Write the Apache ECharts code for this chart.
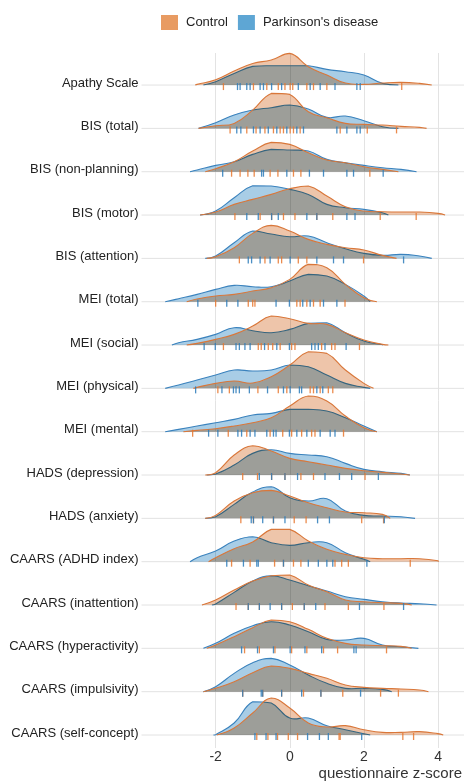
<!DOCTYPE html>
<html><head><meta charset="utf-8">
<script src="https://cdn.jsdelivr.net/npm/echarts@6/dist/echarts.min.js"></script>
<style>html,body{margin:0;padding:0;background:#fff}#c{width:464px;height:782px}</style>
</head><body><div id="c"></div>
<script>
const categories = ["Apathy Scale","BIS (total)","BIS (non-planning)","BIS (motor)","BIS (attention)","MEI (total)","MEI (social)","MEI (physical)","MEI (mental)","HADS (depression)","HADS (anxiety)","CAARS (ADHD index)","CAARS (inattention)","CAARS (hyperactivity)","CAARS (impulsivity)","CAARS (self-concept)"];
const xGrid = [-4,-3.5,-3,-2.5,-2,-1.5,-1,-0.5,0,0.5,1,1.5,2,2.5,3,3.5,4,4.5];
const xTicks = [-2,0,2,4];

// density estimate read at xGrid (values outside each curve's range are unused)
const controlDensity = [
 [0,0,0,0.02,0.16,0.42,0.65,0.75,0.95,0.55,0.30,0.06,0.02,0.06,0.08,0.05,0,0],
 [0,0,0,0.02,0.08,0.15,0.55,1.05,1.02,0.50,0.32,0.15,0.12,0.10,0.06,0.03,0,0],
 [0,0,0,0,0.09,0.30,0.62,0.88,0.82,0.57,0.35,0.27,0.15,0.07,0.01,0,0,0],
 [0,0,0,0.03,0.09,0.32,0.47,0.62,0.79,0.87,0.57,0.25,0.12,0.10,0.09,0.09,0.05,0],
 [0,0,0,0,0.05,0.32,0.75,0.99,0.82,0.57,0.42,0.32,0.25,0.09,0,0,0,0],
 [0,0,0,0.08,0.17,0.22,0.32,0.42,0.67,1.12,1.02,0.52,0.12,0,0,0,0,0],
 [0,0,0,0.05,0.17,0.32,0.57,0.87,0.79,0.65,0.62,0.37,0.15,0.02,0,0,0,0],
 [0,0,0,0.03,0.15,0.22,0.16,0.35,0.70,1.10,1.05,0.55,0.15,0,0,0,0,0],
 [0,0,0,0.04,0.09,0.17,0.27,0.42,0.77,1.07,0.92,0.47,0.12,0,0,0,0,0],
 [0,0,0,0,0.07,0.60,0.88,0.72,0.50,0.40,0.30,0.20,0.13,0.08,0.03,0,0,0],
 [0,0,0,0,0.09,0.52,0.77,0.84,0.67,0.47,0.32,0.19,0.17,0.12,0,0,0,0],
 [0,0,0,0,0.12,0.39,0.59,0.97,0.97,0.62,0.37,0.22,0.12,0.09,0.09,0.09,0.03,0],
 [0,0,0,0.02,0.15,0.45,0.72,0.88,0.90,0.60,0.40,0.15,0.10,0.07,0.05,0,0,0],
 [0,0,0,0,0.10,0.35,0.62,0.85,0.80,0.57,0.30,0.15,0.10,0.08,0.06,0,0,0],
 [0,0,0,0,0.10,0.30,0.57,0.77,0.70,0.55,0.40,0.20,0.13,0.10,0.08,0.05,0,0],
 [0,0,0,0,0,0.21,0.66,1.11,0.81,0.36,0.24,0.28,0.16,0.08,0.08,0.10,0.04,0]
];
const pdDensity = [
 [0,0,0,0,0.10,0.35,0.56,0.58,0.58,0.58,0.47,0.40,0.30,0.05,0,0,0,0],
 [0,0,0,0.02,0.17,0.40,0.55,0.62,0.70,0.58,0.33,0.37,0.23,0.05,0,0,0,0],
 [0,0,0.04,0.05,0.19,0.30,0.52,0.67,0.65,0.62,0.37,0.27,0.19,0.12,0.07,0.01,0,0],
 [0,0,0,0.03,0.12,0.52,0.88,0.87,0.77,0.62,0.32,0.22,0.17,0.07,0,0,0,0],
 [0,0,0,0.01,0.07,0.47,0.82,0.73,0.65,0.67,0.47,0.29,0.15,0.09,0.12,0.07,0,0],
 [0,0,0.09,0.22,0.37,0.49,0.45,0.45,0.62,0.82,0.77,0.52,0.17,0,0,0,0,0],
 [0,0,0.07,0.17,0.32,0.52,0.43,0.37,0.47,0.65,0.67,0.37,0.12,0.01,0,0,0,0],
 [0,0.02,0.10,0.25,0.40,0.55,0.52,0.55,0.70,0.65,0.40,0.15,0.03,0,0,0,0,0],
 [0,0,0.07,0.17,0.27,0.37,0.50,0.55,0.67,0.67,0.62,0.42,0.17,0,0,0,0,0],
 [0,0,0,0,0.03,0.30,0.65,0.76,0.65,0.60,0.55,0.35,0.17,0.10,0.05,0,0,0],
 [0,0,0,0,0.05,0.42,0.79,0.95,0.62,0.52,0.59,0.22,0.09,0.07,0.05,0,0,0],
 [0,0,0.05,0.12,0.32,0.62,0.75,0.57,0.49,0.57,0.57,0.27,0.07,0,0,0,0,0],
 [0,0,0,0,0.03,0.38,0.72,0.88,0.75,0.58,0.42,0.25,0.17,0.10,0.06,0.04,0,0],
 [0,0,0,0,0.15,0.45,0.68,0.80,0.70,0.50,0.27,0.25,0.30,0.10,0.05,0,0,0],
 [0,0,0,0,0.15,0.55,0.87,1.00,0.80,0.50,0.25,0.10,0.10,0.07,0,0,0,0],
 [0,0,0,0,0.01,0.36,1.00,0.96,0.51,0.51,0.28,0.16,0.04,0,0,0,0,0]
];
// z-score where each density curve starts and ends
const controlRange = [
 [-2.55,3.83],[-2.46,3.69],[-2.28,2.93],[-2.42,4.19],[-2.24,2.88],[-2.78,2.35],[-2.78,2.66],[-2.6,2.26],
 [-2.87,2.35],[-2.28,3.24],[-2.28,2.71],[-2.19,4.01],[-2.37,3.29],[-2.24,3.29],[-2.33,3.74],[-1.97,4.14]
];
const pdRange = [
 [-2.33,2.93],[-2.46,2.93],[-2.69,3.42],[-2.42,2.66],[-2.28,3.83],[-3.36,2.17],[-3.18,2.52],[-3.36,2.17],
 [-3.36,2.35],[-2.24,3.24],[-2.28,3.38],[-2.69,2.17],[-2.1,3.96],[-2.33,3.47],[-2.33,2.75],[-2.06,2.17]
];
const controlRug = [
 [-1.79,-0.98,-0.62,-0.31,-0.13,0.01,0.08,0.46,0.64,1.0,3.02],
 [-1.61,-1.16,-0.91,-0.67,-0.44,-0.26,-0.17,0.01,0.10,0.28,1.36,2.09,2.88],
 [-1.57,-1.34,-1.13,-0.96,-0.53,-0.32,0.10,0.30,2.16],
 [-1.48,-0.8,-0.49,-0.17,0.14,0.73,1.16,2.44,3.41],
 [-1.36,-0.67,-0.31,-0.22,0.23,0.46,1.99],
 [-2.0,-1.12,-1.0,-0.94,0.19,0.28,0.46,0.64,0.82,1.49],
 [-1.79,-0.85,-0.77,-0.58,-0.46,-0.26,0.05,0.14,0.86,1.13,1.22,1.88],
 [-1.94,-1.63,-0.86,-0.31,-0.08,0.55,0.64,0.82,1.04,1.16],
 [-2.62,-1.66,-1.16,-0.53,-0.19,0.05,0.32,0.59,0.68,1.45],
 [-1.27,-0.87,-0.49,-0.13,0.30,0.64,2.03],
 [-1.32,-0.98,-0.44,0.12,0.44,1.94,2.53],
 [-1.57,-1.07,-0.41,-0.17,0.10,0.30,1.22,1.40,1.58,3.25],
 [-1.45,-1.12,-0.82,-0.22,0.07,0.39,0.95,1.58,2.54],
 [-1.22,-0.82,-0.40,0.05,0.46,0.91,1.29,2.61],
 [-1.27,-0.73,-0.22,0.37,0.84,1.43,2.45,2.93],
 [-0.89,-0.59,-0.33,-0.04,0.21,1.33,1.36,3.05,3.34]
];
const pdRug = [
 [-1.41,-1.34,-1.16,-1.07,-0.8,-0.71,-0.49,-0.22,0.23,0.55,0.82,1.22,1.81,1.90],
 [-1.43,-1.32,-0.98,-0.80,-0.58,-0.35,-0.08,0.19,0.37,1.27,1.54,1.81,1.90],
 [-1.81,-0.76,-0.71,-0.08,0.53,0.91,1.54,1.72,2.52],
 [-1.16,-0.85,-0.49,-0.31,0.46,0.73,1.54,1.76],
 [-1.12,-1.03,-0.8,-0.53,0.01,0.73,1.18,1.45,3.07],
 [-2.48,-1.70,-1.40,-0.37,-0.01,0.35,0.55,0.91,1.27],
 [-2.31,-2.01,-1.45,-1.36,-1.21,-1.07,-0.68,-0.35,-0.01,0.59,0.68,0.77,0.95,1.52],
 [-2.54,-1.83,-1.52,-1.45,-1.36,-1.09,-0.60,-0.17,0.01,0.26,0.32,0.73,0.89],
 [-2.19,-1.94,-1.40,-1.30,-1.07,-0.94,-0.62,-0.44,-0.37,-0.01,0.19,0.46,0.82,1.09,1.22],
 [-0.82,-0.49,-0.13,0.21,0.95,1.34,1.67,2.39],
 [-1.04,-0.98,-0.73,-0.44,-0.13,0.75,1.07,2.55],
 [-1.70,-1.25,-0.89,-0.85,-0.17,0.50,0.77,1.0,1.16,2.08],
 [-1.12,-0.82,-0.53,-0.22,0.39,0.70,1.88,3.07],
 [-1.30,-0.87,-0.44,0.01,0.41,0.86,1.73,1.79],
 [-1.27,-0.77,-0.73,-0.22,0.32,0.84,1.91],
 [-0.94,-0.64,-0.37,0.48,0.80,1.04,1.94]
];

const ROW_PER_DENSITY = 0.769;
const FONT = '"Liberation Sans", Arial, Helvetica, sans-serif';
const C_FILL = '#eec5aa', P_FILL = '#a8cde6';
const C_LINE = '#d9773a', P_LINE = '#3a82bd';
const C_TICK = '#e8772e', P_TICK = '#2b7bba';

function densityRender(dens, ranges, fill, stroke) {
  return function (params, api) {
    const k = api.value(2);
    const d = dens[k], r = ranges[k];
    const pts = [api.coord([r[0], -k])];
    xGrid.forEach((x, j) => { if (x > r[0] && x < r[1]) pts.push(api.coord([x, -k + d[j] * ROW_PER_DENSITY])); });
    pts.push(api.coord([r[1], -k]));
    const cons = [pts[0], pts[0]];
    return {
      type: 'group',
      children: [
        { type: 'polygon', name: 'densityFill', shape: { points: pts, smooth: 0.45, smoothConstraint: cons },
          style: { fill: fill, blend: 'multiply' } },
        { type: 'polyline', shape: { points: pts, smooth: 0.45, smoothConstraint: cons },
          style: { fill: null, stroke: stroke, lineWidth: 1.1 } }
      ]
    };
  };
}

function frameRender(params, api) {
  const k = api.value(2);
  const cs = params.coordSys;
  const p = api.coord([-4, -k]);
  return {
    type: 'group',
    children: [
      { type: 'line', shape: { x1: cs.x, y1: p[1], x2: cs.x + cs.width, y2: p[1] },
        style: { stroke: '#e2e2e2', lineWidth: 1 } },
      { type: 'text', x: cs.x - 3, y: p[1] - 2,
        style: { text: categories[k], align: 'right', verticalAlign: 'middle',
                 font: '13px ' + FONT, fill: '#222' } }
    ]
  };
}

const rowData = categories.map((c, i) => [-4, -i, i]);
const rug = (arr) => { const out = []; arr.forEach((r, i) => r.forEach(x => out.push([x, -i]))); return out; };

const chart = echarts.init(document.getElementById('c'), null, { renderer: 'canvas' });
chart.setOption({
  animation: false,
  backgroundColor: '#fff',
  title: { text: 'questionnaire z-score', right: 2, top: 766, padding: 0,
           textStyle: { fontSize: 15, fontWeight: 'normal', color: '#333', fontFamily: FONT } },
  legend: {
    left: 161, top: 15, padding: 0, itemWidth: 17, itemHeight: 15, itemGap: 10, icon: 'rect',
    textStyle: { fontSize: 13, color: '#222', fontFamily: FONT, padding: [0, 0, 0, 3] },
    data: [
      { name: 'Control', itemStyle: { color: '#e89b62' } },
      { name: "Parkinson's disease", itemStyle: { color: '#5ea6d4' } }
    ]
  },
  grid: { left: 141.5, right: 0, top: 53, bottom: 34 },
  xAxis: {
    type: 'value', min: -4, max: 4.7, interval: 2,
    axisLine: { show: false }, axisTick: { show: false },
    axisLabel: { showMinLabel: false, showMaxLabel: false, margin: 2, fontSize: 14, color: '#333', fontFamily: FONT,
                 formatter: v => xTicks.includes(v) ? String(v) : '' },
    splitLine: { show: true, showMinLine: false, showMaxLine: false, lineStyle: { color: '#e3e3e3', width: 1 } }
  },
  yAxis: {
    type: 'value', min: -15.3, max: 0.74,
    axisLine: { show: false }, axisTick: { show: false }, axisLabel: { show: false }, splitLine: { show: false }
  },
  series: [
    { type: 'custom', name: 'frame', renderItem: frameRender, data: rowData, encode: { x: 0, y: 1 }, silent: true, z: 1 },
    { type: 'custom', name: "Parkinson's disease", renderItem: densityRender(pdDensity, pdRange, P_FILL, P_LINE),
      data: rowData, encode: { x: 0, y: 1 }, silent: true, z: 2, itemStyle: { color: '#5ea6d4' } },
    { type: 'custom', name: 'Control', renderItem: densityRender(controlDensity, controlRange, C_FILL, C_LINE),
      data: rowData, encode: { x: 0, y: 1 }, silent: true, z: 3, itemStyle: { color: '#e89b62' } },
    { type: 'scatter', name: 'Control', data: rug(controlRug), symbol: 'rect', symbolSize: [1.3, 7], symbolOffset: [0, 1.5],
      itemStyle: { color: C_TICK, opacity: 0.85 }, silent: true, z: 4 },
    { type: 'scatter', name: "Parkinson's disease", data: rug(pdRug), symbol: 'rect', symbolSize: [1.3, 7], symbolOffset: [0, 1.5],
      itemStyle: { color: P_TICK, opacity: 0.85 }, silent: true, z: 4 }
  ]
});

// make the two density fills mix multiplicatively (overlap renders grey)
function applyBlend() {
  const zr = chart.getZr();
  zr.storage.getDisplayList(true).forEach(el => {
    if (el.name === 'densityFill' || (el.style && (el.style.fill === C_FILL || el.style.fill === P_FILL))) {
      el.style.blend = 'multiply';
      el.markRedraw();
    }
  });
  zr.refreshImmediately();
}
applyBlend();
chart.on('finished', function once() { chart.off('finished', once); applyBlend(); });
</script></body></html>
